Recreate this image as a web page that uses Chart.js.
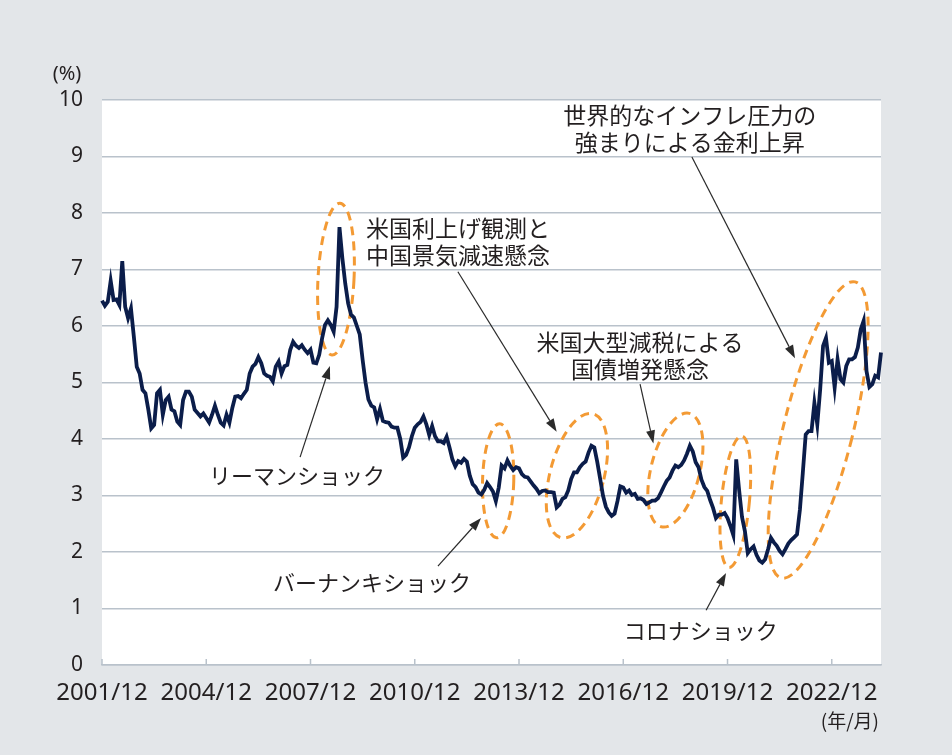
<!DOCTYPE html>
<html>
<head>
<meta charset="utf-8">
<script src="https://cdn.jsdelivr.net/npm/chart.js@4.4.1/dist/chart.umd.min.js"></script>
<style>
body { margin: 0; background: #e3e6e9; }
#wrap { width: 952px; height: 755px; }
</style>
</head>
<body>
<div id="wrap"><canvas id="myChart" width="952" height="755"></canvas></div>
<script>
// monthly yield (%), 2001/12 .. 2024/05
var yields = [
    6.45, 6.36, 6.43, 6.80, 6.46, 6.47, 6.37, 7.15, 6.34, 6.14, 6.31, 5.81,
    5.28, 5.16, 4.87, 4.81, 4.52, 4.19, 4.25, 4.81, 4.87, 4.43, 4.69, 4.75,
    4.52, 4.49, 4.31, 4.25, 4.69, 4.84, 4.84, 4.75, 4.52, 4.46, 4.40, 4.45,
    4.37, 4.29, 4.43, 4.59, 4.43, 4.29, 4.24, 4.43, 4.29, 4.55, 4.75, 4.76,
    4.72, 4.80, 4.87, 5.16, 5.28, 5.33, 5.45, 5.34, 5.16, 5.12, 5.10, 5.02,
    5.28, 5.37, 5.16, 5.29, 5.31, 5.58, 5.72, 5.65, 5.61, 5.66, 5.58, 5.52,
    5.58, 5.35, 5.34, 5.49, 5.78, 6.02, 6.10, 6.02, 5.90, 6.34, 7.75, 7.20,
    6.75, 6.40, 6.20, 6.15, 6.00, 5.85, 5.40, 5.00, 4.70, 4.59, 4.56, 4.35,
    4.53, 4.32, 4.30, 4.29, 4.22, 4.20, 4.20, 4.00, 3.67, 3.72, 3.85, 4.05,
    4.20, 4.26, 4.30, 4.40, 4.26, 4.07, 4.23, 4.05, 3.96, 3.96, 3.93, 4.04,
    3.85, 3.64, 3.52, 3.61, 3.58, 3.65, 3.60, 3.35, 3.20, 3.15, 3.05, 3.02,
    3.10, 3.22, 3.15, 3.07, 2.90, 3.14, 3.53, 3.48, 3.62, 3.52, 3.45, 3.50,
    3.48, 3.38, 3.33, 3.32, 3.25, 3.18, 3.12, 3.04, 3.08, 3.09, 3.06, 3.06,
    3.05, 2.79, 2.84, 2.94, 2.97, 3.09, 3.29, 3.41, 3.41, 3.50, 3.56, 3.60,
    3.76, 3.88, 3.85, 3.60, 3.30, 3.00, 2.80, 2.70, 2.64, 2.68, 2.90, 3.16,
    3.14, 3.05, 3.09, 3.01, 3.03, 2.94, 2.95, 2.92, 2.85, 2.88, 2.91, 2.91,
    2.95, 3.05, 3.16, 3.26, 3.32, 3.44, 3.53, 3.50, 3.54, 3.62, 3.74, 3.88,
    3.78, 3.59, 3.50, 3.28, 3.15, 3.08, 2.92, 2.78, 2.60, 2.66, 2.66, 2.69,
    2.60, 2.46, 2.30, 3.64, 3.10, 2.62, 2.37, 1.98, 2.05, 2.10, 1.95, 1.85,
    1.81, 1.87, 2.05, 2.25, 2.17, 2.11, 2.02, 1.96, 2.05, 2.15, 2.21, 2.26,
    2.31, 2.75, 3.40, 4.08, 4.14, 4.14, 4.64, 4.26, 4.88, 5.65, 5.79, 5.35,
    5.38, 4.91, 5.41, 5.06, 5.00, 5.29, 5.41, 5.41, 5.45, 5.62, 5.94, 6.09,
    5.20, 4.92, 4.97, 5.12, 5.09, 5.53
];
var tickLabels = ["2001/12", "2004/12", "2007/12", "2010/12", "2013/12", "2016/12", "2019/12", "2022/12"];
var tickEvery = 36;

// month labels, one per point
var months = [];
for (var i = 0; i < yields.length; i++) {
    var mm = (11 + i) % 12 + 1;
    var yy = 2001 + Math.floor((11 + i) / 12);
    months.push(yy + "/" + (mm < 10 ? "0" + mm : mm));
}

// annotations, placed in data units (x = month index, y = %)
var rings = [
    {x: 80.8, y: 6.83, rx: 18, ry: 76, rot: 3},
    {x: 136.8, y: 3.26, rx: 15.6, ry: 57, rot: 1.5},
    {x: 164, y: 3.35, rx: 27, ry: 64, rot: 14.5},
    {x: 198, y: 3.45, rx: 24.4, ry: 58.4, rot: 14},
    {x: 218.7, y: 2.89, rx: 14, ry: 66, rot: 5.6},
    {x: 247.3, y: 4.16, rx: 34.7, ry: 152.6, rot: 14}
];
var arrows = [
    {x1: 68.4, y1: 3.68, x2: 78.7, y2: 5.29},
    {x1: 116, y1: 1.75, x2: 130.9, y2: 2.60},
    {x1: 122.9, y1: 6.96, x2: 157, y2: 4.13},
    {x1: 185.8, y1: 4.97, x2: 190.4, y2: 3.92},
    {x1: 208.6, y1: 0.97, x2: 215.5, y2: 1.63},
    {x1: 203.7, y1: 8.99, x2: 239.3, y2: 5.43}
];
var notes = [
    {x: 67.3, y: 3.36, size: 22, lines: ["リーマンショック"]},
    {x: 93.2, y: 1.45, size: 22, lines: ["バーナンキショック"]},
    {x: 122.9, y: 7.73, size: 23, lines: ["米国利上げ観測と", "中国景気減速懸念"]},
    {x: 185.8, y: 5.72, size: 23, lines: ["米国大型減税による", "国債増発懸念"]},
    {x: 206.8, y: 0.60, size: 22, lines: ["コロナショック"]},
    {x: 203, y: 9.73, size: 23, lines: ["世界的なインフレ圧力の", "強まりによる金利上昇"]}
];

var bgPlugin = {
    id: "bg",
    beforeDraw: function(chart) {
        var ctx = chart.ctx, a = chart.chartArea;
        ctx.save();
        ctx.fillStyle = "#e3e6e9";
        ctx.fillRect(0, 0, chart.width, chart.height);
        ctx.fillStyle = "#ffffff";
        ctx.fillRect(a.left, a.top, a.right - a.left, a.bottom - a.top);
        ctx.restore();
    },
    beforeDatasetsDraw: function(chart) {
        var ctx = chart.ctx, xs = chart.scales.x, ys = chart.scales.y;
        ctx.save();
        ctx.strokeStyle = "#f39a34";
        ctx.lineWidth = 3;
        ctx.setLineDash([9, 6]);
        rings.forEach(function(r) {
            ctx.beginPath();
            ctx.ellipse(xs.getPixelForValue(r.x), ys.getPixelForValue(r.y), r.rx, r.ry, r.rot * Math.PI / 180, 0, Math.PI * 2);
            ctx.stroke();
        });
        ctx.restore();
    },
    afterDraw: function(chart) {
        var ctx = chart.ctx, xs = chart.scales.x, ys = chart.scales.y, a = chart.chartArea;
        ctx.save();
        // small tick marks pointing up from the axis
        ctx.strokeStyle = "#b9c2cb";
        ctx.lineWidth = 1.5;
        for (var i = 0; i < yields.length; i += tickEvery) {
            var tx = xs.getPixelForValue(i);
            ctx.beginPath();
            ctx.moveTo(tx, a.bottom);
            ctx.lineTo(tx, a.bottom - 6);
            ctx.stroke();
        }
        // arrows
        ctx.strokeStyle = "#2b2b2b";
        ctx.fillStyle = "#2b2b2b";
        ctx.lineWidth = 1.2;
        arrows.forEach(function(ar) {
            var x1 = xs.getPixelForValue(ar.x1), y1 = ys.getPixelForValue(ar.y1);
            var x2 = xs.getPixelForValue(ar.x2), y2 = ys.getPixelForValue(ar.y2);
            var ang = Math.atan2(y2 - y1, x2 - x1);
            var hl = 13, hw = 4.5;
            var bx = x2 - hl * Math.cos(ang), by = y2 - hl * Math.sin(ang);
            ctx.beginPath();
            ctx.moveTo(x1, y1);
            ctx.lineTo(bx, by);
            ctx.stroke();
            ctx.beginPath();
            ctx.moveTo(x2, y2);
            ctx.lineTo(bx + hw * Math.sin(ang), by - hw * Math.cos(ang));
            ctx.lineTo(bx - hw * Math.sin(ang), by + hw * Math.cos(ang));
            ctx.closePath();
            ctx.fill();
        });
        // labels
        ctx.fillStyle = "#231f20";
        ctx.textAlign = "center";
        ctx.textBaseline = "middle";
        notes.forEach(function(n) {
            var nx = xs.getPixelForValue(n.x), ny = ys.getPixelForValue(n.y);
            ctx.font = n.size + "px 'Noto Sans CJK JP'";
            n.lines.forEach(function(t, k) {
                ctx.fillText(t, nx, ny + k * 27);
            });
        });
        ctx.font = "20px 'Noto Sans'";
        ctx.fillText("(%)", 67, 74);
        ctx.font = "19px 'Noto Sans CJK JP'";
        ctx.textAlign = "right";
        ctx.fillText("(年/月)", 879, 721);
        ctx.restore();
    }
};

new Chart("myChart", {
    type: "line",
    data: {
        labels: months,
        datasets: [{
            data: yields,
            borderColor: "#0b1d4a",
            borderWidth: 3.8,
            pointRadius: 0,
            tension: 0,
            fill: false
        }]
    },
    options: {
        responsive: false,
        animation: false,
        layout: {padding: {left: 0, right: 71, top: 100, bottom: 0}},
        plugins: {legend: {display: false}, tooltip: {enabled: false}},
        scales: {
            x: {
                grid: {display: false, drawTicks: false},
                border: {display: true, color: "#b9c2cb", width: 1.5},
                ticks: {
                    autoSkip: false,
                    maxRotation: 0,
                    padding: 14,
                    color: "#231f20",
                    font: {family: "'Noto Sans'", size: 24},
                    callback: function(v, i) {
                        return i % tickEvery === 0 ? tickLabels[i / tickEvery] : null;
                    }
                },
                afterFit: function(s) { s.height = 90; }
            },
            y: {
                min: 0,
                max: 10,
                grid: {color: "#b9c2cb", lineWidth: 1.5, drawTicks: false},
                border: {display: false},
                ticks: {
                    stepSize: 1,
                    padding: 19,
                    color: "#231f20",
                    font: {family: "'Noto Sans'", size: 21}
                },
                afterFit: function(s) { s.width = 102; }
            }
        }
    },
    plugins: [bgPlugin]
});
</script>
</body>
</html>
